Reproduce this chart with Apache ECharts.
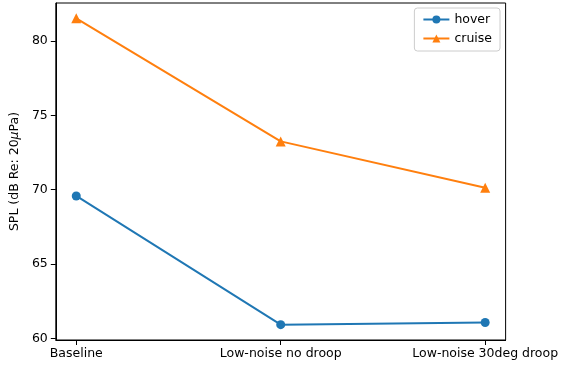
<!DOCTYPE html>
<html>
<head>
<meta charset="utf-8">
<script src="https://cdn.jsdelivr.net/npm/echarts@6/dist/echarts.min.js"></script>
<style>
  html, body { margin: 0; padding: 0; background: #fff; }
  #main { width: 561px; height: 368px; }
</style>
</head>
<body>
<div id="main"></div>
<script>
// configurations on the x axis
var categories = ['Baseline', 'Low-noise no droop', 'Low-noise 30deg droop'];
// SPL values
var hover = [69.58, 60.92, 61.07];
var cruise = [81.53, 73.25, 70.13];
var yTicks = [60, 65, 70, 75, 80];

function toPoints(values) {
    var pts = [];
    for (var i = 0; i < values.length; i++) {
        pts.push([i, values[i]]);
    }
    return pts;
}

var chart = echarts.init(document.getElementById('main'));
var font = 'DejaVu Sans';

var option = {
    animation: false,
    textStyle: { fontFamily: font },
    grid: {
        left: 54, right: 54, top: 3, bottom: 28,
        show: true, borderColor: '#000', borderWidth: 1
    },
    legend: {
        right: 61, top: 8,
        orient: 'vertical',
        itemGap: 6,
        itemWidth: 26, itemHeight: 10,
        padding: [5, 8, 6, 8],
        borderColor: '#ccc', borderWidth: 1, borderRadius: 3,
        textStyle: { fontFamily: font, fontSize: 12.5, color: '#000' },
        data: ['hover', 'cruise']
    },
    xAxis: {
        type: 'value',
        min: -0.1, max: 2.1,
        splitLine: { show: false },
        axisLine: { show: true, onZero: false, lineStyle: { color: '#000' } },
        axisTick: { show: true, length: 5, customValues: [0, 1, 2], lineStyle: { color: '#000' } },
        axisLabel: {
            customValues: [0, 1, 2],
            margin: 7,
            fontFamily: font, fontSize: 12.5, color: '#000',
            formatter: function (v) { return categories[Math.round(v)]; }
        }
    },
    yAxis: {
        type: 'value',
        min: 59.89, max: 82.56,
        splitLine: { show: false },
        axisLine: { show: true, onZero: false, lineStyle: { color: '#000' } },
        axisTick: { show: true, length: 5, customValues: yTicks, lineStyle: { color: '#000' } },
        axisLabel: {
            customValues: yTicks,
            margin: 8,
            fontFamily: font, fontSize: 12.5, color: '#000'
        },
        name: '{n|SPL (dB Re: 20}{i|μ}{n|Pa)}',
        nameLocation: 'middle',
        nameGap: 31,
        nameTextStyle: {
            rich: {
                n: { fontFamily: font, fontSize: 12.5, color: '#000' },
                i: { fontFamily: font, fontSize: 12.5, color: '#000', fontStyle: 'italic' }
            }
        }
    },
    series: [
        {
            name: 'hover',
            type: 'line',
            data: toPoints(hover),
            symbol: 'circle',
            symbolSize: 9,
            color: '#1f77b4',
            lineStyle: { width: 2 }
        },
        {
            name: 'cruise',
            type: 'line',
            data: toPoints(cruise),
            symbol: 'triangle',
            symbolSize: 10,
            color: '#ff7f0e',
            lineStyle: { width: 2 }
        }
    ]
};

chart.setOption(option);
</script>
</body>
</html>
